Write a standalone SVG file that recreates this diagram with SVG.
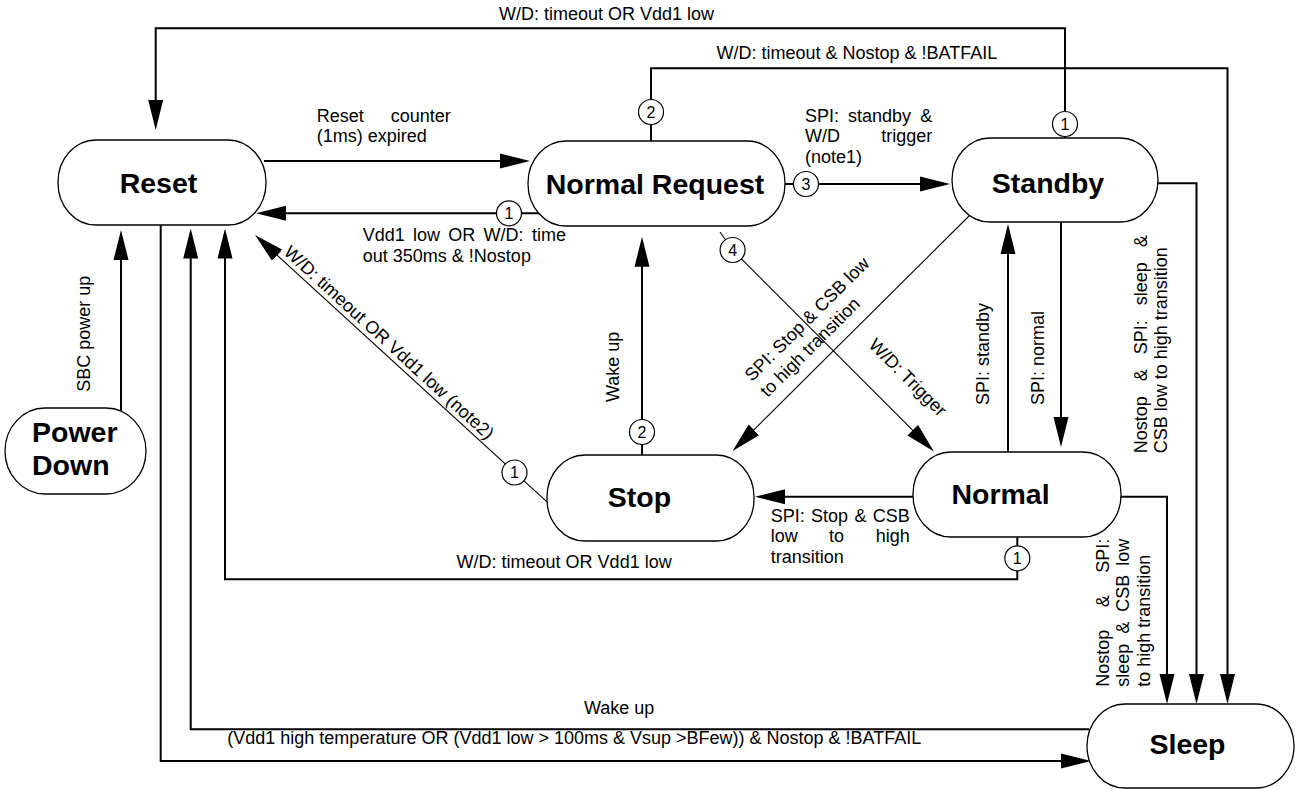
<svg xmlns="http://www.w3.org/2000/svg" width="1306" height="789" viewBox="0 0 1306 789">
<style>
.node{fill:#fff;stroke:#000;stroke-width:1.3}
.nt{font-family:"Liberation Sans",Arial,sans-serif;font-weight:bold;font-size:28.5px;fill:#000}
.lbl{font-family:"Liberation Sans",Arial,sans-serif;font-size:18px;fill:#000}
.w{fill:none;stroke:#000;stroke-width:2}
.t{fill:none;stroke:#000;stroke-width:1.1}
.c{fill:#fff;stroke:#000;stroke-width:1.2}
.cn{font-family:"Liberation Sans",Arial,sans-serif;font-size:16px;text-anchor:middle;fill:#000}
</style>
<defs>
<marker id="ah" markerUnits="userSpaceOnUse" markerWidth="30" markerHeight="16" viewBox="0 0 30 16" refX="22" refY="8" orient="auto"><path d="M0,0.5 L30,8 L0,15.5 z" fill="#000"/></marker>
</defs>
<rect x="0" y="0" width="1306" height="789" fill="#fff"/>

<g id="connectors">
<path class="w" d="M1065,138 V28.3 H155.7 V122" marker-end="url(#ah)"/>
<path class="w" d="M651,141 V68.3 H1227.5 V696" marker-end="url(#ah)"/>
<path class="w" d="M1158,183.3 H1196.5 V696" marker-end="url(#ah)"/>
<path class="w" d="M1121,496.7 H1167 V696" marker-end="url(#ah)"/>
<path class="w" d="M264,161 H522" marker-end="url(#ah)"/>
<path class="w" d="M540,213.3 H264" marker-end="url(#ah)"/>
<path class="w" d="M785,184 H942" marker-end="url(#ah)"/>
<path class="w" d="M642,455 V244.7" marker-end="url(#ah)"/>
<path class="t" d="M546.7,501.7 L260.9,240.4" marker-end="url(#ah)"/>
<path class="t" d="M720,232 L732.6,250 L928.3,445.8" marker-end="url(#ah)"/>
<path class="t" d="M969,216 L738.3,445.4" marker-end="url(#ah)"/>
<path class="w" d="M1008,452 V232" marker-end="url(#ah)"/>
<path class="w" d="M1061,222 V439" marker-end="url(#ah)"/>
<path class="w" d="M913,496.7 H763" marker-end="url(#ah)"/>
<path class="w" d="M1017.3,537 V579.3 H225 V236.5" marker-end="url(#ah)"/>
<path class="w" d="M1089,729.3 H190.7 V236.5" marker-end="url(#ah)"/>
<path class="w" d="M160.7,225 V761 H1083" marker-end="url(#ah)"/>
<path class="w" d="M121,411 V238" marker-end="url(#ah)"/>

<circle class="c" cx="509" cy="213.3" r="12.5"/><text class="cn" x="509" y="219">1</text>
<circle class="c" cx="651" cy="112" r="12.5"/><text class="cn" x="651" y="117.7">2</text>
<circle class="c" cx="806" cy="184" r="12.5"/><text class="cn" x="806" y="189.7">3</text>
<circle class="c" cx="732.6" cy="250" r="12.5"/><text class="cn" x="732.6" y="255.7">4</text>
<circle class="c" cx="1065" cy="124" r="12.5"/><text class="cn" x="1065" y="129.7">1</text>
<circle class="c" cx="642" cy="432" r="12.5"/><text class="cn" x="642" y="437.7">2</text>
<circle class="c" cx="514.5" cy="472.5" r="12.5"/><text class="cn" x="514.5" y="478.2">1</text>
<circle class="c" cx="1017.3" cy="558.3" r="12.5"/><text class="cn" x="1017.3" y="564">1</text>
</g>

<g id="labels" class="lbl">
<text x="499" y="20">W/D: timeout OR Vdd1 low</text>
<text x="716.5" y="58.5">W/D: timeout &amp; Nostop &amp; !BATFAIL</text>
<text y="121.5"><tspan x="316.7">Reset</tspan><tspan x="450.7" text-anchor="end">counter</tspan></text>
<text x="316.7" y="141.5">(1ms) expired</text>
<text y="121.5"><tspan x="805">SPI:</tspan><tspan x="848">standby</tspan><tspan x="932.3" text-anchor="end">&amp;</tspan></text>
<text y="142"><tspan x="805">W/D</tspan><tspan x="932.3" text-anchor="end">trigger</tspan></text>
<text x="805" y="162.5">(note1)</text>
<text y="241"><tspan x="362.8">Vdd1</tspan><tspan x="413.1">low</tspan><tspan x="448.3">OR</tspan><tspan x="483.6">W/D:</tspan><tspan x="566" text-anchor="end">time</tspan></text>
<text x="362.8" y="261.5">out 350ms &amp; !Nostop</text>
<text y="521.5"><tspan x="770.8">SPI:</tspan><tspan x="811.1">Stop</tspan><tspan x="854.4">&amp;</tspan><tspan x="909.8" text-anchor="end">CSB</tspan></text>
<text y="542"><tspan x="770.8">low</tspan><tspan x="829">to</tspan><tspan x="909.8" text-anchor="end">high</tspan></text>
<text x="770.8" y="563">transition</text>
<text x="456.6" y="568.3">W/D: timeout OR Vdd1 low</text>
<text x="584" y="714">Wake up</text>
<text x="227.3" y="744">(Vdd1 high temperature OR (Vdd1 low &gt; 100ms &amp; Vsup &gt;BFew)) &amp; Nostop &amp; !BATFAIL</text>
<text transform="translate(90,391.7) rotate(-90)">SBC power up</text>
<text transform="translate(619,402) rotate(-90)">Wake up</text>
<text transform="translate(988.8,405) rotate(-90)">SPI: standby</text>
<text transform="translate(1044,405) rotate(-90)">SPI: normal</text>
<text transform="translate(1147,453.3) rotate(-90)"><tspan x="0">Nostop</tspan><tspan x="72">&amp;</tspan><tspan x="99">SPI:</tspan><tspan x="148">sleep</tspan><tspan x="218" text-anchor="end">&amp;</tspan></text>
<text transform="translate(1167,453.3) rotate(-90)">CSB low to high transition</text>
<text transform="translate(1109,686.7) rotate(-90)"><tspan x="0">Nostop</tspan><tspan x="79.5">&amp;</tspan><tspan x="148" text-anchor="end">SPI:</tspan></text>
<text transform="translate(1129,686.7) rotate(-90)"><tspan x="0">sleep</tspan><tspan x="53">&amp;</tspan><tspan x="75">CSB</tspan><tspan x="148" text-anchor="end">low</tspan></text>
<text transform="translate(1150,686.7) rotate(-90)">to high transition</text>
<text transform="translate(384.9,347.1) rotate(42.46)" text-anchor="middle">W/D: timeout OR Vdd1 low (note2)</text>
<text transform="translate(903.5,381.7) rotate(45)" text-anchor="middle">W/D: Trigger</text>
<text transform="translate(752,382.3) rotate(-44.8)">SPI: Stop &amp; CSB low</text>
<text transform="translate(767.5,398) rotate(-44.8)">to high transition</text>
</g>

<g id="node-reset"><rect class="node" x="58" y="140" width="208" height="85" rx="38" ry="42"/><text class="nt" x="158.5" y="193" text-anchor="middle">Reset</text></g>
<g id="node-normal-request"><rect class="node" x="528" y="141" width="257" height="85" rx="38" ry="42"/><text class="nt" x="655" y="194" text-anchor="middle">Normal Request</text></g>
<g id="node-standby"><rect class="node" x="952" y="138" width="206" height="84" rx="38" ry="42"/><text class="nt" x="1048" y="193" text-anchor="middle">Standby</text></g>
<g id="node-normal"><rect class="node" x="913" y="452" width="208" height="85" rx="38" ry="42"/><text class="nt" x="1000.5" y="504" text-anchor="middle">Normal</text></g>
<g id="node-stop"><rect class="node" x="547" y="455" width="207" height="86" rx="38" ry="42"/><text class="nt" x="639.4" y="507" text-anchor="middle">Stop</text></g>
<g id="node-sleep"><rect class="node" x="1087" y="704" width="207" height="84" rx="38" ry="42"/><text class="nt" x="1187.5" y="753.5" text-anchor="middle">Sleep</text></g>
<g id="node-power-down"><rect class="node" x="5" y="408" width="141" height="86" rx="40" ry="43"/><text class="nt" x="32" y="441.5">Power</text><text class="nt" x="32" y="475">Down</text></g>
</svg>
